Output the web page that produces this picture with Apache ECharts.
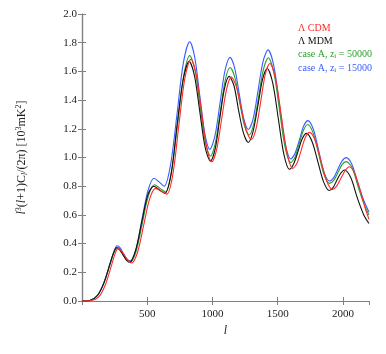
<!DOCTYPE html>
<html>
<head>
<meta charset="utf-8">
<script src="https://cdn.jsdelivr.net/npm/echarts@6/dist/echarts.min.js"></script>
<style>
  html, body { margin: 0; padding: 0; background: #fff; }
  #chart { width: 386px; height: 354px; }
</style>
</head>
<body>
<div id="chart"></div>
<script>
// multipole l and spectrum values, one list per curve
var cdmL  = [0, 70, 130, 180, 225, 250, 275, 301, 328, 354, 380, 426, 472, 518, 565, 608, 650, 696, 742, 788, 835, 875, 915, 955, 995, 1032, 1070, 1108, 1145, 1183, 1220, 1260, 1298, 1334, 1370, 1405, 1440, 1484, 1528, 1572, 1615, 1648, 1680, 1712, 1745, 1789, 1832, 1876, 1920, 1952, 1985, 2018, 2050, 2090, 2130, 2170, 2200];
var cdmV  = [0, 0.003, 0.03, 0.115, 0.245, 0.32, 0.365, 0.35, 0.315, 0.28, 0.265, 0.34, 0.525, 0.71, 0.785, 0.765, 0.745, 0.88, 1.22, 1.55, 1.685, 1.58, 1.33, 1.075, 0.97, 1.055, 1.265, 1.475, 1.56, 1.495, 1.34, 1.19, 1.125, 1.20, 1.39, 1.58, 1.655, 1.55, 1.29, 1.03, 0.924, 0.96, 1.05, 1.14, 1.175, 1.115, 0.975, 0.835, 0.778, 0.80, 0.855, 0.91, 0.936, 0.89, 0.78, 0.65, 0.57];

var mdmL  = [0, 60, 120, 170, 215, 240, 265, 290, 315, 340, 365, 410, 458, 505, 550, 592, 635, 682, 728, 775, 822, 862, 903, 944, 985, 1021, 1056, 1092, 1128, 1165, 1200, 1238, 1275, 1311, 1348, 1384, 1420, 1462, 1505, 1548, 1590, 1622, 1655, 1688, 1720, 1764, 1808, 1852, 1895, 1924, 1953, 1983, 2012, 2060, 2110, 2160, 2200];
var mdmV  = [0, 0.004, 0.04, 0.13, 0.26, 0.33, 0.37, 0.355, 0.32, 0.285, 0.27, 0.35, 0.55, 0.74, 0.80, 0.775, 0.75, 0.88, 1.22, 1.54, 1.67, 1.57, 1.32, 1.07, 0.975, 1.06, 1.27, 1.48, 1.565, 1.50, 1.33, 1.17, 1.105, 1.18, 1.36, 1.545, 1.62, 1.52, 1.27, 1.02, 0.918, 0.955, 1.04, 1.13, 1.168, 1.11, 0.97, 0.83, 0.77, 0.79, 0.84, 0.89, 0.913, 0.86, 0.72, 0.60, 0.54];

var zi5L  = [0, 60, 120, 170, 218, 243, 268, 294, 319, 345, 370, 416, 462, 508, 555, 598, 640, 686, 733, 780, 826, 866, 905, 945, 985, 1022, 1060, 1098, 1135, 1171, 1208, 1244, 1280, 1317, 1354, 1391, 1428, 1471, 1514, 1557, 1600, 1632, 1665, 1698, 1730, 1772, 1814, 1856, 1898, 1930, 1962, 1993, 2025, 2070, 2115, 2160, 2200];
var zi5V  = [0, 0.004, 0.04, 0.13, 0.265, 0.335, 0.375, 0.36, 0.32, 0.285, 0.27, 0.35, 0.54, 0.73, 0.81, 0.785, 0.76, 0.90, 1.235, 1.57, 1.71, 1.61, 1.36, 1.11, 1.01, 1.10, 1.32, 1.54, 1.627, 1.56, 1.39, 1.225, 1.157, 1.235, 1.425, 1.615, 1.695, 1.59, 1.33, 1.07, 0.964, 1.00, 1.097, 1.19, 1.23, 1.17, 1.025, 0.88, 0.82, 0.84, 0.895, 0.95, 0.971, 0.93, 0.80, 0.68, 0.60];

var zi15L = [0, 60, 120, 170, 218, 243, 268, 293, 318, 343, 368, 414, 460, 506, 552, 591, 630, 679, 728, 777, 826, 864, 903, 942, 980, 1019, 1058, 1096, 1135, 1170, 1205, 1240, 1275, 1313, 1350, 1388, 1426, 1470, 1513, 1557, 1600, 1633, 1666, 1699, 1732, 1774, 1815, 1856, 1898, 1930, 1962, 1993, 2025, 2070, 2115, 2160, 2200];
var zi15V = [0, 0.004, 0.042, 0.135, 0.27, 0.34, 0.385, 0.37, 0.33, 0.295, 0.28, 0.36, 0.57, 0.77, 0.855, 0.83, 0.80, 0.95, 1.30, 1.66, 1.807, 1.70, 1.43, 1.165, 1.057, 1.15, 1.38, 1.605, 1.698, 1.625, 1.445, 1.27, 1.195, 1.275, 1.47, 1.67, 1.75, 1.64, 1.37, 1.10, 0.99, 1.03, 1.12, 1.22, 1.257, 1.195, 1.045, 0.895, 0.836, 0.86, 0.92, 0.975, 0.999, 0.95, 0.82, 0.70, 0.62];

var seriesNames  = ['ΛCDM', 'ΛMDM', 'z50000', 'z15000'];
var seriesColors = ['#ff2a2a', '#111111', '#2ca02c', '#3a5cff'];
var yTicks = ['0.0', '0.2', '0.4', '0.6', '0.8', '1.0', '1.2', '1.4', '1.6', '1.8', '2.0'];

function pairs(xs, ys) {
  return xs.map(function (x, i) { return [x, ys[i]]; });
}

var chart = echarts.init(document.getElementById('chart'));
var font = '"Liberation Serif", "DejaVu Serif", serif';
var frame = '#808080';

var legendText = {
  'ΛCDM': 'Λ CDM',
  'ΛMDM': 'Λ MDM',
  'z50000': '{t|case A, z}{s|i}{t| = 50000}',
  'z15000': '{t|case A, z}{s|i}{t| = 15000}'
};

var allData = [pairs(cdmL, cdmV), pairs(mdmL, mdmV), pairs(zi5L, zi5V), pairs(zi15L, zi15V)];

var option = {
  animation: false,
  backgroundColor: '#fff',
  textStyle: { fontFamily: font },
  grid: { left: 82, right: 17, top: 14, bottom: 53 },
  legend: {
    orient: 'vertical',
    left: 288,
    top: 18,
    itemGap: 3,
    icon: 'none',
    itemWidth: 0,
    itemHeight: 10,
    data: seriesNames.map(function (n, i) {
      return {
        name: n,
        textStyle: {
          color: seriesColors[i],
          fontSize: 10,
          fontFamily: font,
          rich: {
            t: { color: seriesColors[i], fontSize: 10, fontFamily: font },
            s: { color: seriesColors[i], fontSize: 7, fontFamily: font, verticalAlign: 'bottom', padding: [5, 0, 0, 0] }
          }
        }
      };
    }),
    formatter: function (n) { return legendText[n]; }
  },
  xAxis: [{
    type: 'value',
    min: 0, max: 2200, interval: 500,
    name: 'l',
    nameLocation: 'middle',
    nameGap: 23,
    nameTextStyle: { fontStyle: 'italic', fontSize: 12, color: '#222', fontFamily: font },
    axisLine: { lineStyle: { color: frame, width: 1.2 } },
    axisTick: { inside: true, length: 4, lineStyle: { color: frame } },
    axisLabel: {
      showMinLabel: false, showMaxLabel: false, color: '#222', fontSize: 11, fontFamily: font, margin: 8,
      formatter: function (v) { return String(v); }
    },
    splitLine: { show: false }
  }, {
    type: 'value', position: 'top',
    min: 0, max: 2200, interval: 500,
    axisLine: { show: true, lineStyle: { color: frame, width: 1.2 } },
    axisTick: { inside: true, length: 4, lineStyle: { color: frame } },
    axisLabel: { show: false },
    splitLine: { show: false }
  }],
  yAxis: [{
    type: 'value',
    min: 0, max: 2.0, interval: 0.2,
    name: '{i|l}{p|3}{t|(}{i|l}{t|+1)C}{b|l}{t|/(2π) [10}{p|3}{t|mK}{p|2}{t|]}',
    nameLocation: 'middle',
    nameRotate: 90,
    nameGap: 53,
    nameTextStyle: {
      color: '#222',
      rich: {
        t: { fontSize: 12, fontFamily: font, color: '#222' },
        i: { fontSize: 12, fontFamily: font, fontStyle: 'italic', color: '#222' },
        p: { fontSize: 8, fontFamily: font, color: '#222', verticalAlign: 'top', padding: [0, 0, 6, 0] },
        b: { fontSize: 8, fontFamily: font, fontStyle: 'italic', color: '#222', verticalAlign: 'bottom', padding: [5, 0, 0, 0] }
      }
    },
    axisLine: { show: true, lineStyle: { color: frame, width: 1.2 } },
    axisTick: { show: true, inside: true, length: 4, lineStyle: { color: frame } },
    axisLabel: {
      color: '#222', fontSize: 11, fontFamily: font, margin: 5,
      formatter: function (v) { return yTicks[Math.round(v / 0.2)]; }
    },
    splitLine: { show: false }
  }, {
    type: 'value', position: 'right',
    min: 0, max: 2.0, interval: 0.2,
    axisLine: { show: true, lineStyle: { color: frame, width: 1.2 } },
    axisTick: { show: true, inside: true, length: 4, lineStyle: { color: frame } },
    axisLabel: { show: false },
    splitLine: { show: false }
  }],
  series: seriesNames.map(function (n, i) {
    return {
      name: n,
      type: 'line',
      data: allData[i],
      smooth: 0.3,
      showSymbol: false,
      clip: true,
      z: 4 - i,
      lineStyle: { color: seriesColors[i], width: 1.1 },
      itemStyle: { color: seriesColors[i] }
    };
  })
};

chart.setOption(option);
</script>
</body>
</html>
